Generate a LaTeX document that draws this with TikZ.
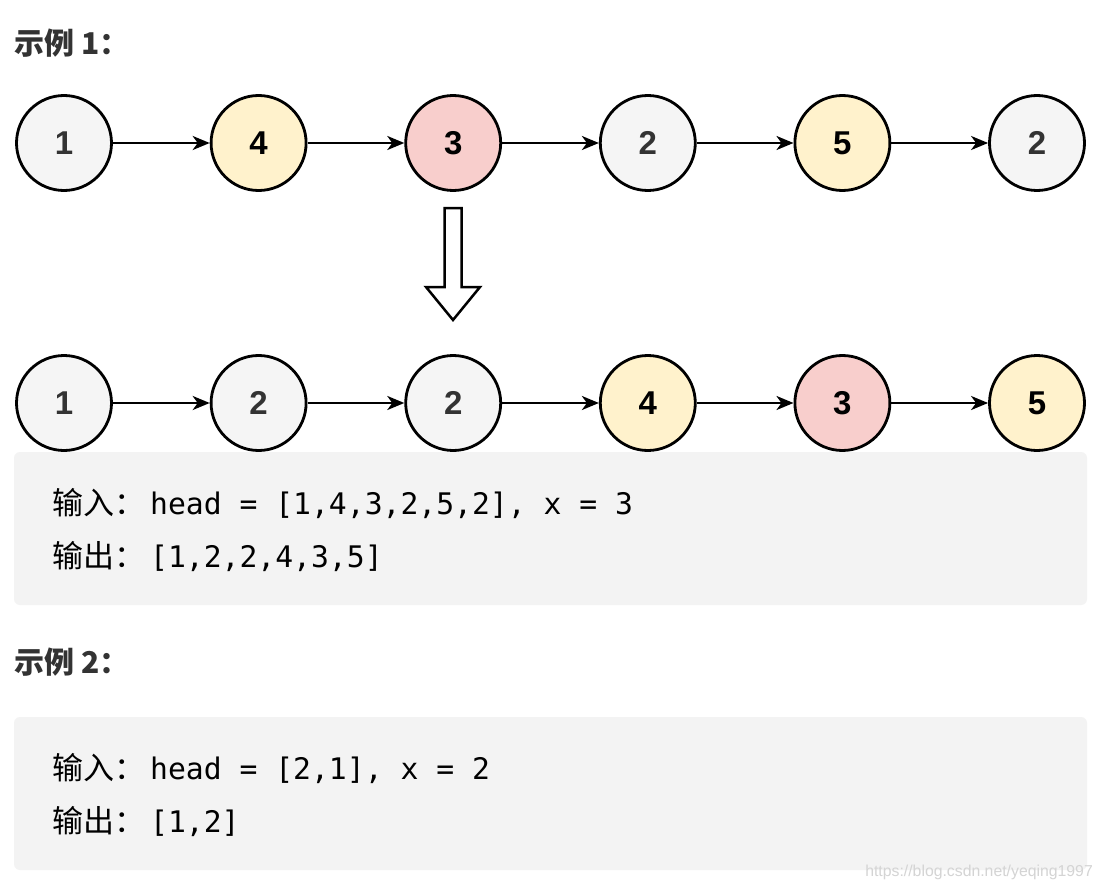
\documentclass[tikz,border=0pt]{standalone}
\usepackage{fontspec}
\setmainfont{Liberation Sans}
\newfontfamily\cjk{Noto Sans CJK SC}
\newfontfamily\codefont{DejaVu Sans Mono}
\usetikzlibrary{arrows.meta}
\definecolor{cgray}{HTML}{F5F5F5}
\definecolor{cyel}{HTML}{FFF2CC}
\definecolor{cred}{HTML}{F8CECC}
\definecolor{txtgray}{HTML}{333333}
\definecolor{boxgray}{HTML}{F3F3F3}
\definecolor{wmgray}{HTML}{D4D4D4}
\begin{document}
\begin{tikzpicture}[x=1pt,y=-1pt,
  lnode/.style={circle,draw=black,line width=2.8pt,minimum size=95pt,inner sep=0pt,
    font=\fontsize{33}{33}\selectfont\bfseries},
  gnode/.style={lnode,fill=cgray,text=txtgray},
  ynode/.style={lnode,fill=cyel,text=black},
  rnode/.style={lnode,fill=cred,text=black},
  link/.style={-{Stealth[length=17pt,width=14pt,inset=5pt]},line width=2.6pt},
  head/.style={anchor=base west,inner sep=0pt,text=txtgray,font=\cjk\bfseries\fontsize{30}{30}\selectfont},
  code/.style={anchor=base west,inner sep=0pt,text=black},
  codebox/.style={fill=boxgray,rounded corners=6pt},
  bigarrow/.style={draw=black,line width=2.5pt,fill=white,line join=miter}
]
\useasboundingbox[fill=white] (0,0) rectangle (1103,888);

% headers
\node[head] (h1) at (14,55) {示例 1：};
\node[head] (h2) at (14,673) {示例 2：};

% row 1
\node[gnode] (a1) at (64,143) {1};
\node[ynode] (a2) at (258.6,143) {4};
\node[rnode] (a3) at (453.2,143) {3};
\node[gnode] (a4) at (647.8,143) {2};
\node[ynode] (a5) at (842.4,143) {5};
\node[gnode] (a6) at (1037,143) {2};
\foreach \i/\j in {a1/a2,a2/a3,a3/a4,a4/a5,a5/a6} \draw[link] (\i) -- (\j);

% big down arrow
\draw[bigarrow] (444.5,208) -- (461.5,208) -- (461.5,287) -- (480,287) -- (453,320)
  -- (426,287) -- (444.5,287) -- cycle;

% row 2
\node[gnode] (b1) at (64,403) {1};
\node[gnode] (b2) at (258.6,403) {2};
\node[gnode] (b3) at (453.2,403) {2};
\node[ynode] (b4) at (647.8,403) {4};
\node[rnode] (b5) at (842.4,403) {3};
\node[ynode] (b6) at (1037,403) {5};
\foreach \i/\j in {b1/b2,b2/b3,b3/b4,b4/b5,b5/b6} \draw[link] (\i) -- (\j);

% code box 1
\fill[codebox] (14,452) rectangle (1087,605);
\node[code] (c1) at (52,514) {{\cjk\fontsize{31}{31}\selectfont 输入：}\hspace{5pt}{\codefont\fontsize{29.7}{29.7}\selectfont head = [1,4,3,2,5,2], x = 3}};
\node[code] (c2) at (52,567) {{\cjk\fontsize{31}{31}\selectfont 输出：}\hspace{5pt}{\codefont\fontsize{29.7}{29.7}\selectfont [1,2,2,4,3,5]}};

% code box 2
\fill[codebox] (14,717) rectangle (1087,870);
\node[code] (d1) at (52,779) {{\cjk\fontsize{31}{31}\selectfont 输入：}\hspace{5pt}{\codefont\fontsize{29.7}{29.7}\selectfont head = [2,1], x = 2}};
\node[code] (d2) at (52,832) {{\cjk\fontsize{31}{31}\selectfont 输出：}\hspace{5pt}{\codefont\fontsize{29.7}{29.7}\selectfont [1,2]}};

% watermark
\node[anchor=base east,inner sep=0pt,text=wmgray,font=\fontsize{15.8}{15.8}\selectfont] (wm) at (1093,876) {https://blog.csdn.net/yeqing1997};
\end{tikzpicture}
\end{document}
